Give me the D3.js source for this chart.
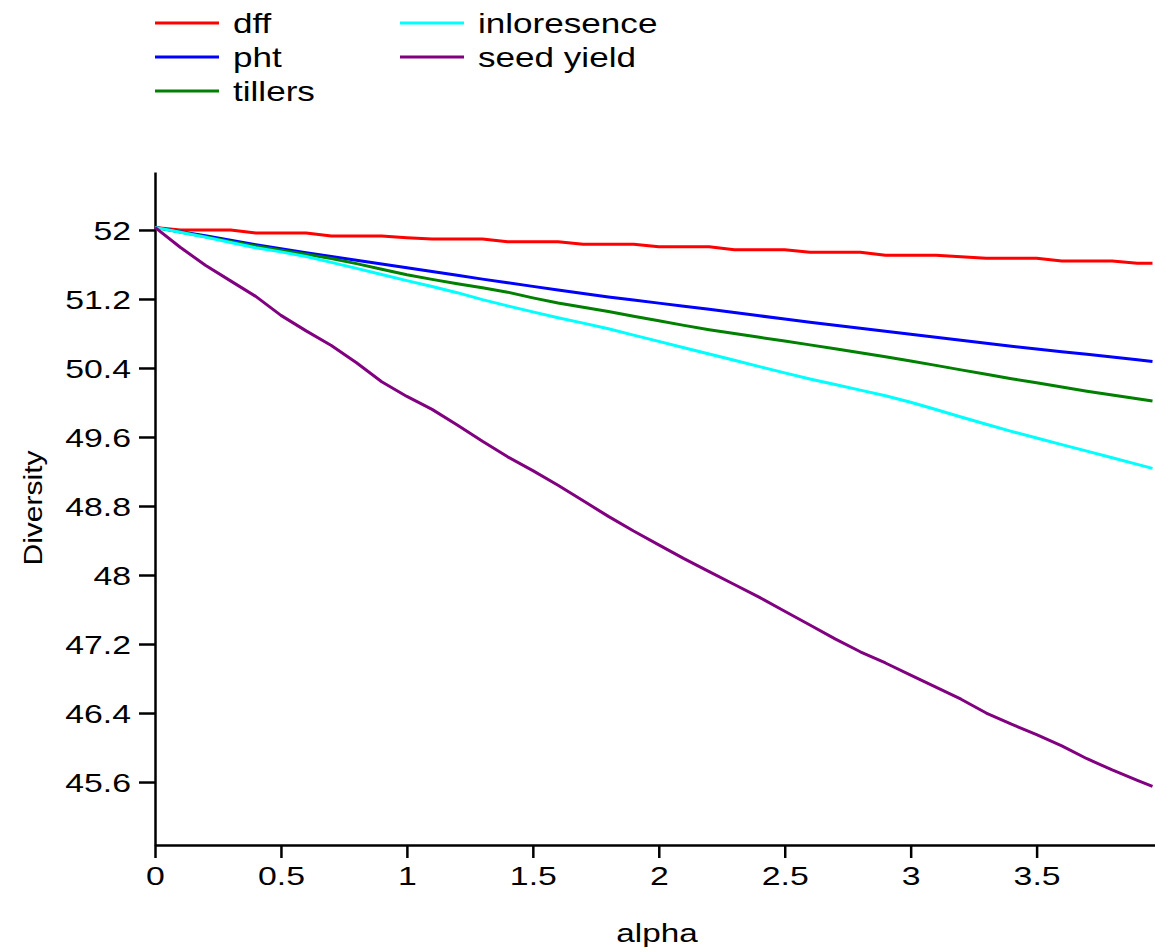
<!DOCTYPE html>
<html>
<head>
<meta charset="utf-8">
<script src="https://cdn.jsdelivr.net/npm/d3@7/dist/d3.min.js"></script>
<style>
  body { margin: 0; background: #fff; }
  svg { display: block; font-family: 'Liberation Sans', Arial, sans-serif; }
</style>
</head>
<body>
<svg id="chart" width="1155" height="952"></svg>
<script>
'use strict';

// alpha values
var alpha = [0, 0.1, 0.2, 0.3, 0.4, 0.5, 0.6, 0.7, 0.8, 0.9,
  1.0, 1.1, 1.2, 1.3, 1.4, 1.5, 1.6, 1.7, 1.8, 1.9,
  2.0, 2.1, 2.2, 2.3, 2.4, 2.5, 2.6, 2.7, 2.8, 2.9,
  3.0, 3.1, 3.2, 3.3, 3.4, 3.5, 3.6, 3.7, 3.8, 3.9, 3.96];

var dff = [52.03, 52.0, 52.0, 52.0, 51.965, 51.965, 51.965, 51.93, 51.93, 51.93,
  51.91, 51.896, 51.896, 51.896, 51.864, 51.864, 51.864, 51.834, 51.834, 51.834,
  51.806, 51.806, 51.806, 51.771, 51.771, 51.771, 51.741, 51.741, 51.741, 51.707,
  51.707, 51.707, 51.69, 51.672, 51.672, 51.672, 51.64, 51.64, 51.64, 51.614, 51.614];

var pht = [52.03, 51.98, 51.932, 51.88, 51.828, 51.782, 51.737, 51.692, 51.648, 51.605,
  51.562, 51.518, 51.474, 51.43, 51.388, 51.346, 51.305, 51.264, 51.223, 51.187,
  51.152, 51.116, 51.08, 51.042, 51.005, 50.967, 50.93, 50.895, 50.86, 50.826,
  50.792, 50.757, 50.722, 50.686, 50.652, 50.62, 50.589, 50.558, 50.527, 50.496, 50.474];

var tillers = [52.03, 51.976, 51.922, 51.868, 51.815, 51.766, 51.718, 51.669, 51.61, 51.545,
  51.48, 51.427, 51.376, 51.33, 51.279, 51.213, 51.153, 51.104, 51.054, 51.0,
  50.947, 50.894, 50.844, 50.8, 50.756, 50.712, 50.668, 50.622, 50.576, 50.53,
  50.481, 50.43, 50.378, 50.327, 50.276, 50.228, 50.18, 50.131, 50.086, 50.043, 50.017];

var inloresence = [52.03, 51.974, 51.917, 51.854, 51.794, 51.746, 51.693, 51.624, 51.555, 51.484,
  51.413, 51.344, 51.273, 51.192, 51.12, 51.05, 50.983, 50.92, 50.854, 50.781,
  50.708, 50.635, 50.562, 50.489, 50.416, 50.343, 50.273, 50.208, 50.143, 50.078,
  50.003, 49.918, 49.832, 49.747, 49.665, 49.589, 49.512, 49.436, 49.359, 49.282, 49.236];

var seedYield = [52.03, 51.8, 51.59, 51.41, 51.23, 51.01, 50.83, 50.66, 50.46, 50.24,
  50.07, 49.92, 49.74, 49.55, 49.37, 49.21, 49.04, 48.86, 48.68, 48.51,
  48.35, 48.19, 48.04, 47.89, 47.74, 47.58, 47.42, 47.26, 47.11, 46.98,
  46.84, 46.7, 46.56, 46.4, 46.27, 46.15, 46.02, 45.87, 45.74, 45.62, 45.55];

var seriesNames = ['dff', 'pht', 'tillers', 'inloresence', 'seed yield'];
var seriesValues = [dff, pht, tillers, inloresence, seedYield];
var seriesColors = ['#ff0000', '#0000ff', '#008000', '#00ffff', '#800080'];

var xTicks = [0, 0.5, 1, 1.5, 2, 2.5, 3, 3.5];
var yTicks = [45.6, 46.4, 47.2, 48, 48.8, 49.6, 50.4, 51.2, 52];

// the original fonts are drawn wider than Arial, so stretch text sideways
var stretch = 1.3;

var svg = d3.select('#chart');

var x = d3.scaleLinear().domain([0, 3.97]).range([155, 1155]);
var y = d3.scaleLinear().domain([44.87, 52.672]).range([845, 172]);

// axes
var xAxis = svg.append('g')
  .attr('transform', 'translate(0,845)')
  .call(d3.axisBottom(x)
    .tickValues(xTicks)
    .tickSize(13)
    .tickSizeOuter(0)
    .tickPadding(9)
    .tickFormat(function(d) { return String(d); }));

var yAxis = svg.append('g')
  .attr('transform', 'translate(155,0)')
  .call(d3.axisLeft(y)
    .tickValues(yTicks)
    .tickSize(16)
    .tickSizeOuter(0)
    .tickPadding(8)
    .tickFormat(function(d) { return String(+d.toFixed(1)); }));

[xAxis, yAxis].forEach(function(axis) {
  axis.select('.domain').attr('stroke', '#000').attr('stroke-width', 2.5);
  axis.selectAll('.tick line').attr('stroke', '#000').attr('stroke-width', 2.5);
  axis.selectAll('.tick text')
    .attr('fill', '#000')
    .style('font-size', '26px')
    .style('font-family', "'Liberation Sans', Arial, sans-serif");
});

xAxis.selectAll('.tick text')
  .attr('transform', 'scale(' + stretch + ',1)');

yAxis.selectAll('.tick text')
  .attr('dy', '0.36em')
  .attr('x', -24 / stretch)
  .attr('transform', 'scale(' + stretch + ',1)');

// axis titles
svg.append('text')
  .attr('transform', 'translate(657,942) scale(1.28,1)')
  .attr('text-anchor', 'middle')
  .style('font-size', '26px')
  .text('alpha');

svg.append('text')
  .attr('transform', 'translate(42,508) rotate(-90) scale(1.2,1)')
  .attr('text-anchor', 'middle')
  .style('font-size', '25px')
  .text('Diversity');

// lines
var line = d3.line()
  .x(function(d, i) { return x(alpha[i]); })
  .y(function(d) { return y(d); });

svg.append('g')
  .selectAll('path')
  .data(seriesValues)
  .enter()
  .append('path')
  .attr('d', line)
  .attr('fill', 'none')
  .attr('stroke', function(d, i) { return seriesColors[i]; })
  .attr('stroke-width', 3)
  .attr('stroke-linejoin', 'round');

// legend, two columns
var legend = svg.append('g');
var item = legend.selectAll('g')
  .data(seriesNames)
  .enter()
  .append('g')
  .attr('transform', function(d, i) {
    var col = i < 3 ? 0 : 1;
    var row = i < 3 ? i : i - 3;
    return 'translate(' + (155 + col * 245) + ',' + (23 + row * 34) + ')';
  });

item.append('line')
  .attr('x1', 0)
  .attr('x2', 64)
  .attr('y1', 0)
  .attr('y2', 0)
  .attr('stroke', function(d, i) { return seriesColors[i]; })
  .attr('stroke-width', 3);

item.append('text')
  .attr('transform', 'translate(78,10) scale(' + stretch + ',1)')
  .style('font-size', '27px')
  .text(function(d) { return d; });
</script>
</body>
</html>
